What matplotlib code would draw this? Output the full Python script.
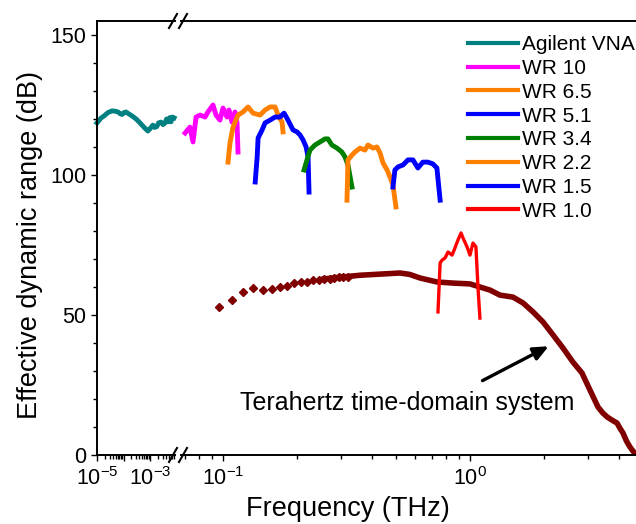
import matplotlib
matplotlib.use("Agg")
import matplotlib.pyplot as plt
from matplotlib.lines import Line2D
import numpy as np

plt.rcParams['font.family'] = ['Liberation Sans', 'DejaVu Sans']
plt.rcParams['mathtext.default'] = 'regular'

# ---------------- data ----------------
vna_f = [1e-5, 1.4e-5, 1.84e-5, 2.6e-5, 3.7e-5, 4.8e-5, 6.2e-5, 7.5e-5, 8.8e-5, 1.05e-4,
         1.24e-4, 1.6e-4, 2.1e-4, 3.0e-4, 4.2e-4, 6.0e-4, 8.3e-4, 1.0e-3, 1.28e-3, 1.5e-3,
         1.8e-3, 2.1e-3, 2.6e-3, 3.1e-3, 3.7e-3, 4.2e-3, 4.8e-3, 5.5e-3, 6.2e-3, 7.0e-3, 8.1e-3]
vna_db = [118.6, 120.3, 121.1, 122.3, 122.9, 122.8, 122.5, 121.9, 121.6, 122.3,
          122.5, 121.8, 121.1, 120.0, 118.6, 117.0, 115.7, 116.5, 117.8, 117.0,
          117.3, 118.6, 118.9, 118.0, 118.6, 120.0, 119.0, 120.5, 119.0, 120.7, 120.4]

wr10_f = [0.0702, 0.0735, 0.0756, 0.0778, 0.0807, 0.0846, 0.0869, 0.0911, 0.0937, 0.0972,
          0.100, 0.1038, 0.1057, 0.1087, 0.1118, 0.1140, 0.1150]
wr10_db = [115.0, 117.1, 111.8, 120.7, 121.4, 120.7, 122.5, 125.0, 121.4, 119.6,
           123.9, 120.7, 123.2, 118.9, 122.5, 118.6, 108.2]

wr65_f = [0.1048, 0.1067, 0.1098, 0.1150, 0.1205, 0.1263, 0.1323, 0.1412, 0.1480, 0.1550,
          0.1625, 0.1670, 0.1734, 0.1750]
wr65_db = [104.6, 111.4, 117.1, 121.4, 122.5, 124.3, 122.1, 121.4, 123.2, 124.3,
           124.3, 121.4, 118.9, 115.4]

wr51_f = [0.1350, 0.1375, 0.1387, 0.1440, 0.1480, 0.1550, 0.1625, 0.1700, 0.1767, 0.1833,
          0.1920, 0.1994, 0.2050, 0.2110, 0.2170, 0.2210, 0.2230]
wr51_db = [97.5, 106.4, 113.2, 116.1, 118.6, 119.6, 120.7, 120.7, 122.1, 119.6,
           116.1, 115.4, 114.3, 112.5, 110.0, 106.4, 93.9]

wr34_f = [0.2128, 0.2188, 0.2250, 0.2357, 0.2470, 0.2588, 0.2660, 0.2760, 0.2895, 0.3030,
          0.3120, 0.3206, 0.3328]
wr34_db = [101.8, 105.4, 108.9, 110.7, 111.8, 112.9, 112.9, 110.7, 109.6, 108.2,
           106.4, 103.6, 95.7]

wr22_f = [0.3177, 0.3206, 0.3328, 0.3420, 0.3586, 0.3757, 0.3864, 0.4049, 0.4202, 0.4322,
          0.4446, 0.4614, 0.4744, 0.4877, 0.5014]
wr22_db = [91.0, 105.4, 107.1, 108.2, 109.6, 108.9, 110.7, 109.6, 110.0, 107.9,
           104.3, 101.8, 99.3, 96.4, 88.6]

wr15_f = [0.4877, 0.4966, 0.5115, 0.5357, 0.5610, 0.5875, 0.6153, 0.6443, 0.6747, 0.7066,
          0.7345, 0.7570]
wr15_db = [95.7, 101.8, 102.9, 103.6, 105.4, 105.4, 102.5, 104.6, 104.6, 104.0,
           102.5, 91.0]

wr10b_f = [0.742, 0.757, 0.771, 0.793, 0.815, 0.846, 0.869, 0.894, 0.920, 0.937,
           0.973, 1.000, 1.028, 1.057, 1.077, 1.097]
wr10b_db = [51.1, 68.6, 69.6, 70.4, 72.5, 71.4, 73.9, 76.8, 79.3, 77.5,
            74.3, 71.4, 75.7, 74.3, 60.0, 48.9]

# terahertz time-domain system: discrete points at low frequency
tds_pts_f = [0.0962, 0.1088, 0.1205, 0.1323, 0.1452, 0.1579, 0.1705, 0.1815, 0.194, 0.207,
             0.219, 0.2316, 0.2446, 0.257, 0.270, 0.282, 0.295, 0.307, 0.320]
tds_pts_db = [52.9, 55.4, 58.2, 59.6, 58.9, 59.3, 60.0, 60.4, 61.4, 61.8,
              61.8, 62.5, 62.5, 62.9, 62.9, 63.2, 63.4, 63.6, 63.6]
# dense part
tds_f = [0.257, 0.298, 0.359, 0.432, 0.521, 0.570, 0.628, 0.735, 0.853, 1.000,
         1.097, 1.205, 1.322, 1.492, 1.640, 1.800, 1.976, 2.168, 2.380, 2.610,
         2.840, 3.060, 3.300, 3.450, 3.590, 3.750, 3.940, 4.050, 4.160, 4.300, 4.440, 4.560, 4.700]
tds_db = [62.9, 63.5, 64.2, 64.6, 65.0, 64.5, 63.2, 61.8, 61.4, 61.1,
          60.0, 58.9, 57.1, 56.4, 54.3, 51.1, 47.5, 42.9, 38.2, 33.2,
          29.3, 23.2, 17.1, 15.0, 13.6, 12.5, 11.4, 9.5, 7.9, 5.0, 2.9, 1.5, 0.0]

series = [
    ("WR 10", wr10_f, wr10_db, "#FF00FF", 3.5),
    ("WR 6.5", wr65_f, wr65_db, "#FF8000", 3.5),
    ("WR 5.1", wr51_f, wr51_db, "#0000FF", 3.5),
    ("WR 3.4", wr34_f, wr34_db, "#008000", 3.5),
    ("WR 2.2", wr22_f, wr22_db, "#FF8000", 3.5),
    ("WR 1.5", wr15_f, wr15_db, "#0000FF", 3.5),
    ("WR 1.0", wr10b_f, wr10b_db, "#FF0000", 2.4),
]

# ---------------- figure ----------------
W, H = 636, 524
fig = plt.figure(figsize=(W / 100, H / 100), dpi=100)

def fx(px):
    return px / W

def fy(py):
    return 1 - py / H

x0, x1a, x2a, x3 = 97, 175, 181, 636
ytop, ybot = 21, 455
ax1 = fig.add_axes([fx(x0), fy(ybot), fx(x1a - x0), fy(ytop) - fy(ybot)])
ax2 = fig.add_axes([fx(x2a), fy(ybot), fx(x3 - x2a), fy(ytop) - fy(ybot)])

for ax in (ax1, ax2):
    ax.set_xscale('log')
    ax.set_ylim(0, 155)
    for s in ax.spines.values():
        s.set_linewidth(1.4)
    ax.tick_params(which='both', direction='out', width=1.0, labelsize=15.5, colors='black')
    ax.tick_params(which='major', length=4)
    ax.tick_params(which='minor', length=3)
    ax.tick_params(axis='x', which='both', pad=5)

ax1.spines['right'].set_visible(False)
ax2.spines['left'].set_visible(False)
ax2.spines['right'].set_visible(False)

ax1.set_xlim(1e-5, 10 ** (-5 + (x1a - x0) / 26.5))
ax2.set_xlim(0.0676, 4.7)

# ax1 ticks
ax1.set_xticks([1e-5, 1e-4, 1e-3])
ax1.set_xticklabels(['$10^{-5}$', '', '$10^{-3}$'])
ax1.xaxis.set_minor_locator(matplotlib.ticker.LogLocator(base=10, subs=np.arange(2, 10)))
ax1.xaxis.set_minor_formatter(matplotlib.ticker.NullFormatter())
ax1.set_yticks([0, 50, 100, 150])
ax1.set_yticks(np.arange(0, 151, 10), minor=True)

# ax2 ticks
ax2.set_xticks([0.1, 1])
ax2.set_xticklabels(['$10^{-1}$', '$10^{0}$'])
ax2.xaxis.set_minor_locator(matplotlib.ticker.LogLocator(base=10, subs=np.arange(2, 10)))
ax2.xaxis.set_minor_formatter(matplotlib.ticker.NullFormatter())
ax2.set_yticks([])
ax2.tick_params(axis='y', which='both', left=False, right=False)

# data
h_vna, = ax1.plot(vna_f, vna_db, color='#008080', lw=3.5, label='Agilent VNA',
                  solid_joinstyle='round', clip_on=False)

ax2.plot(tds_pts_f, tds_pts_db, ls='none', marker='D', ms=4.2, color='#800000')
ax2.plot(tds_f, tds_db, color='#800000', lw=4.0, solid_joinstyle='round')

handles = [h_vna]
for name, f, d, c, lw in series:
    h, = ax2.plot(f, d, color=c, lw=lw, label=name, solid_joinstyle='round')
    handles.append(h)

leg = fig.legend(handles=handles, labels=[h.get_label() for h in handles],
                 loc='upper left', bbox_to_anchor=(fx(464), fy(31)),
                 frameon=False, fontsize=15, handlelength=2.4, handletextpad=0.2,
                 labelspacing=0.23, borderaxespad=0, borderpad=0.2)
for lh in leg.get_lines():
    lh.set_linewidth(3)

# annotation
ax2.annotate('', xy=(2.13, 39.3), xytext=(1.098, 26.1),
             arrowprops=dict(arrowstyle='-|>,head_length=0.9,head_width=0.4', lw=2.4, color='black'))
ax2.text(0.555, 18.6, 'Terahertz time-domain system', fontsize=18, ha='center', va='center')

# axis labels
fig.text(fx(30), fy(245), 'Effective dynamic range (dB)', rotation=90, fontsize=19.5,
         ha='center', va='center')
fig.text(fx(348), fy(509), 'Frequency (THz)', fontsize=19.5, ha='center', va='center')

# break marks
for yb in (ytop, ybot):
    for xb in (173, 183):
        fig.add_artist(Line2D([fx(xb - 4), fx(xb + 4)], [fy(yb + 7), fy(yb - 7)],
                              color='black', lw=1.5, transform=fig.transFigure))

fig.savefig('out.png', dpi=100)
